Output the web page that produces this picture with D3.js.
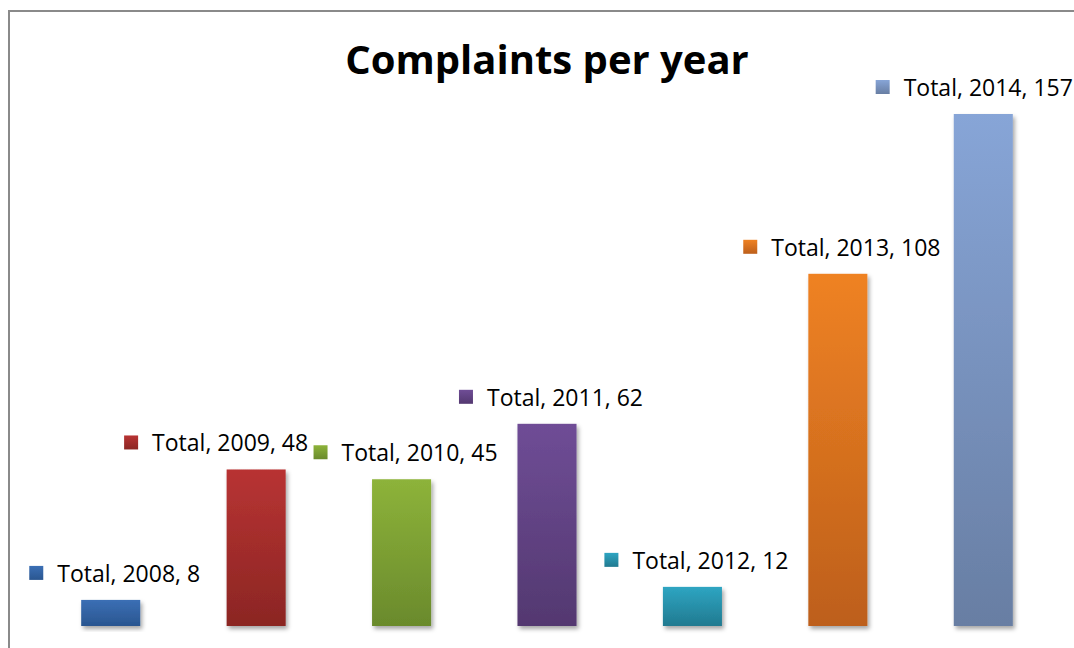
<!DOCTYPE html>
<html>
<head>
<meta charset="utf-8">
<script src="https://cdn.jsdelivr.net/npm/d3@7/dist/d3.min.js"></script>
<style>
  body { margin: 0; background: #fff; }
  svg { display: block; font-family: "Open Sans", "Liberation Sans", sans-serif; }
</style>
</head>
<body>
<div id="chart"></div>
<script>
const years = ["2008", "2009", "2010", "2011", "2012", "2013", "2014"];
const totals = [8, 48, 45, 62, 12, 108, 157];
const seriesName = "Total";
const topColors = ["#3b6fb5", "#b83333", "#8db33a", "#6f4d96", "#2ea5c2", "#ef8223", "#87a5d7"];
const bottomColors = ["#2a5690", "#8b2623", "#6a8a2c", "#533870", "#217a90", "#bd5f1b", "#687ea3"];
const title = "Complaints per year";

const width = 1074, height = 648;
const margin = {top: 114, right: 18, bottom: 22, left: 38};

const svg = d3.select("#chart")
    .append("svg")
        .attr("width", width)
        .attr("height", height);

const defs = svg.append("defs");

years.forEach((y, i) => {
    const g = defs.append("linearGradient")
        .attr("id", "grad" + i)
        .attr("x1", 0).attr("y1", 0).attr("x2", 0).attr("y2", 1);
    g.append("stop").attr("offset", "0%").attr("stop-color", topColors[i]);
    g.append("stop").attr("offset", "100%").attr("stop-color", bottomColors[i]);
});

const shadow = defs.append("filter")
    .attr("id", "shadow")
    .attr("x", "-20%").attr("y", "-20%").attr("width", "140%").attr("height", "140%");
shadow.append("feDropShadow")
    .attr("dx", 2).attr("dy", 3)
    .attr("stdDeviation", 2)
    .attr("flood-color", "#000")
    .attr("flood-opacity", 0.35);

// chart frame (only top and left show in the crop)
svg.append("rect")
    .attr("x", 9).attr("y", 11)
    .attr("width", width + 20).attr("height", height + 20)
    .attr("fill", "none")
    .attr("stroke", "#8a8a8a")
    .attr("stroke-width", 2);

const x = d3.scaleBand()
    .domain(years)
    .range([margin.left, width - margin.right])
    .paddingInner(0.594)
    .paddingOuter(0.297);

const y = d3.scaleLinear()
    .domain([0, d3.max(totals)])
    .range([height - margin.bottom, margin.top]);

const data = years.map((yr, i) => ({year: yr, value: totals[i], i: i}));

svg.append("g")
    .selectAll("rect")
    .data(data)
    .enter()
    .append("rect")
        .attr("x", d => x(d.year))
        .attr("y", d => y(d.value))
        .attr("width", x.bandwidth())
        .attr("height", d => y(0) - y(d.value))
        .attr("fill", d => `url(#grad${d.i})`)
        .attr("filter", "url(#shadow)");

// data labels: marker + "Total, year, value", centred above each bar
const labelNudge = {"2009": -44, "2014": -13};
const fontSize = 23;
const labels = svg.append("g")
    .selectAll("g")
    .data(data)
    .enter()
    .append("g");

labels.append("text")
    .attr("class", "lbl")
    .attr("font-size", fontSize)
    .attr("fill", "#000")
    .attr("dominant-baseline", "central")
    .text(d => `${seriesName}, ${d.year}, ${d.value}`);

labels.each(function(d) {
    const g = d3.select(this);
    const tw = g.select("text").node().getComputedTextLength();
    const total = 14 + 14 + tw;
    const cx = x(d.year) + x.bandwidth() / 2 + 4 + (labelNudge[d.year] || 0);
    const left = cx - total / 2;
    const cy = y(d.value) - 27;
    g.select("text").attr("x", left + 28).attr("y", cy);
    g.insert("rect", "text")
        .attr("x", left).attr("y", cy - 7)
        .attr("width", 14).attr("height", 14)
        .attr("fill", `url(#grad${d.i})`);
});

// title
svg.append("text")
    .attr("x", (margin.left + width - margin.right) / 2)
    .attr("y", 74)
    .attr("text-anchor", "middle")
    .attr("font-weight", "bold")
    .attr("font-size", 40)
    .attr("fill", "#000")
    .text(title);
</script>
</body>
</html>
